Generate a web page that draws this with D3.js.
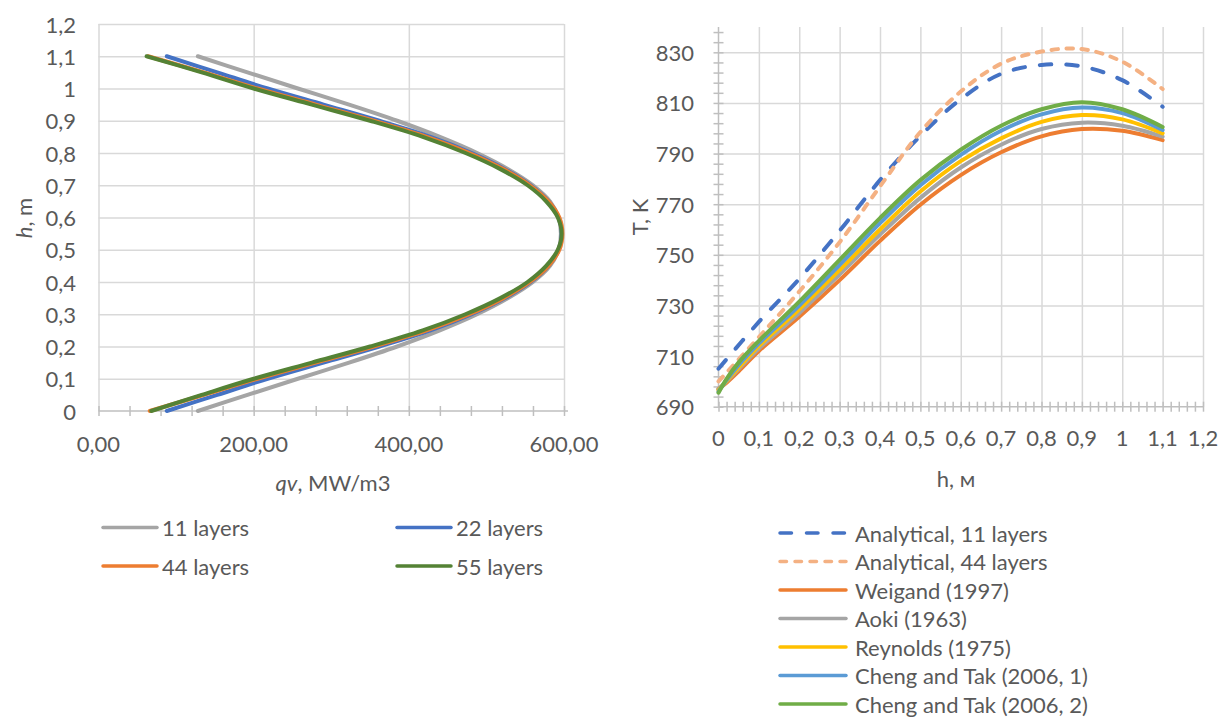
<!DOCTYPE html>
<html><head><meta charset="utf-8">
<script src="https://cdn.jsdelivr.net/npm/d3@7"></script>
<style>
body{margin:0;background:#fff}
text{font-family:Lato,"Open Sans",sans-serif;fill:#595959;font-size:22px}
</style>
</head><body>
<svg id="c" width="1222" height="720"></svg>
<script>
// ---------- Left chart data: qv (MW/m3) vs h (m) ----------
const hLeft = [0,0.05,0.1,0.15,0.2,0.25,0.3,0.35,0.4,0.45,0.5,0.55,0.6,0.65,0.7,0.75,0.8,0.85,0.9,0.95,1.0,1.05,1.1];
const q11 = [128,192,257,323,385,440,488,528,560,582,593,596,593,582,560,528,488,440,385,323,257,192,128];
const q22 = [88,153,218,290,362,428,481,524,557,580,593,597,593,580,557,524,481,428,362,290,218,153,88];
const q44 = [66,136,205,280,355,423,478,522,556,580,594,598,594,580,556,522,478,423,355,280,205,136,64];
const q55 = [68,133,200,275,350,418,473,518,553,577,592,597,592,577,553,518,473,418,350,275,200,133,62];
const leftSeriesNames = ["11 layers","22 layers","44 layers","55 layers"];
const leftColors = ["#A5A5A5","#4472C4","#ED7D31","#548235"];
const leftXTicks = [0,200,400,600];
const leftXLabels = ["0,00","200,00","400,00","600,00"];
const leftYTicks = [0,0.1,0.2,0.3,0.4,0.5,0.6,0.7,0.8,0.9,1,1.1,1.2];
const leftYLabels = ["0","0,1","0,2","0,3","0,4","0,5","0,6","0,7","0,8","0,9","1","1,1","1,2"];

// ---------- Right chart data: T (K) vs h (m) ----------
const hAnalytical = [0,0.1,0.2,0.3,0.4,0.5,0.6,0.7,0.8,0.9,1.0,1.1];
const tAnalytical11 = [705,723.5,740.5,759.5,779.5,797,811.5,821.5,825,824.4,819,808.5];
const tAnalytical44 = [700,717.5,735.5,755,777,798.5,814.5,825.5,830.3,831.3,826.3,815.5];
const hModels = [0,0.02,0.05,0.1,0.2,0.3,0.4,0.5,0.6,0.7,0.8,0.9,1.0,1.1];
const tWeigand = [697,699.5,704,712,725.5,740,755.5,769.8,781.5,790.5,796.8,799.7,799,795.3];
const tAoki = [697,700,705,713,727,742.3,758,772.5,784.5,793.5,799.7,802.2,801,796.7];
const tReynolds = [696.5,700.2,705.5,714,728.5,744,760,775,787,796,802.5,805.2,803.5,798];
const tCheng1 = [696,700.5,706.5,715,730,746,762.5,777.5,789.5,799,805.5,808.2,806,799.3];
const tCheng2 = [695.5,701,707.5,716,731.5,748,764.5,779.5,791.5,801,807.5,810.3,807.5,800.5];
const rightSeriesNames = ["Analytical, 11 layers","Analytical, 44 layers","Weigand (1997)","Aoki (1963)","Reynolds (1975)","Cheng and Tak (2006, 1)","Cheng and Tak (2006, 2)"];
const rightColors = ["#4472C4","#F4B183","#ED7D31","#A5A5A5","#FFC000","#5B9BD5","#70AD47"];
const rightXTicks = [0,0.1,0.2,0.3,0.4,0.5,0.6,0.7,0.8,0.9,1,1.1,1.2];
const rightXLabels = ["0","0,1","0,2","0,3","0,4","0,5","0,6","0,7","0,8","0,9","1","1,1","1,2"];
const rightYTicks = [690,710,730,750,770,790,810,830];
const rightYLabels = ["690","710","730","750","770","790","810","830"];

const svg = d3.select("#c");
const GRID = "#D9D9D9", AXIS = "#BFBFBF";

// ================= LEFT CHART =================
const xL = d3.scaleLinear().domain([0,600]).range([98.5,564]);
const yL = d3.scaleLinear().domain([0,1.2]).range([411,24]);
const gL = svg.append("g");

gL.append("g").call(d3.axisLeft(yL).tickValues(leftYTicks.slice(1)).tickSize(-(xL(600)-xL(0))).tickFormat(""))
  .attr("transform",`translate(${xL(0)},0)`)
  .call(g=>{g.select(".domain").remove(); g.selectAll("line").attr("stroke",GRID).attr("stroke-width",1.5);});
gL.append("g").call(d3.axisBottom(xL).tickValues(leftXTicks).tickSize(-(yL(0)-yL(1.2))).tickFormat(""))
  .attr("transform",`translate(0,${yL(0)})`)
  .call(g=>{g.select(".domain").remove(); g.selectAll("line").attr("stroke",GRID).attr("stroke-width",1.5);});
gL.append("g").attr("transform",`translate(0,${yL(0)-5})`)
  .call(d3.axisBottom(xL).tickValues(d3.range(0,601,40)).tickSize(10).tickSizeOuter(0).tickFormat(""))
  .call(g=>{g.select(".domain").remove(); g.selectAll("line").attr("stroke",AXIS).attr("stroke-width",1.5);});
gL.append("line").attr("x1",xL(0)).attr("x2",xL(600)+4).attr("y1",yL(0)).attr("y2",yL(0)).attr("stroke",AXIS).attr("stroke-width",1.5);

gL.selectAll(".ylab").data(leftYTicks).join("text")
  .attr("x",76).attr("y",d=>yL(d)).attr("text-anchor","end").attr("dominant-baseline","central")
  .text((d,i)=>leftYLabels[i]);
gL.selectAll(".xlab").data(leftXTicks).join("text")
  .attr("x",d=>xL(d)).attr("y",443).attr("text-anchor","middle").attr("dominant-baseline","central")
  .text((d,i)=>leftXLabels[i]);

const tl = gL.append("text").attr("transform","translate(32,218) rotate(-90)").attr("text-anchor","middle");
tl.append("tspan").attr("font-style","italic").text("h");
tl.append("tspan").text(", m");
const tx = gL.append("text").attr("x",333).attr("y",482).attr("text-anchor","middle").attr("dominant-baseline","central");
tx.append("tspan").attr("font-style","italic").text("qv");
tx.append("tspan").text(", MW/m3");

const leftData = [q11,q22,q44,q55];
const lineL = d3.line().x(d=>xL(d[0])).y(d=>yL(d[1])).curve(d3.curveCatmullRom.alpha(0.5));
leftData.forEach((qs,i)=>{
  const pts = hLeft.map((h,j)=>[qs[j],h]);
  gL.append("path").attr("d",lineL(pts)).attr("fill","none").attr("stroke",leftColors[i])
    .attr("stroke-width",4).attr("stroke-linecap","round").attr("stroke-linejoin","round");
});

const legL = [{x:103,y:527.5},{x:397,y:527.5},{x:103,y:566},{x:397,y:566}];
leftSeriesNames.forEach((n,i)=>{
  const p = legL[i];
  gL.append("line").attr("x1",p.x).attr("x2",p.x+54).attr("y1",p.y).attr("y2",p.y)
    .attr("stroke",leftColors[i]).attr("stroke-width",3.5).attr("stroke-linecap","round");
  gL.append("text").attr("x",p.x+59).attr("y",p.y).attr("dominant-baseline","central").text(n);
});

// ================= RIGHT CHART =================
const xR = d3.scaleLinear().domain([0,1.2]).range([718.5,1203]);
const yR = d3.scaleLinear().domain([690,840]).range([406.7,27]);
const gR = svg.append("g");

gR.append("g").attr("transform",`translate(${xR(0)},0)`)
  .call(d3.axisLeft(yR).tickValues(rightYTicks.slice(1)).tickSize(-(xR(1.2)-xR(0))).tickFormat(""))
  .call(g=>{g.select(".domain").remove(); g.selectAll("line").attr("stroke",GRID).attr("stroke-width",1.5);});
gR.append("g").attr("transform",`translate(0,${yR(690)})`)
  .call(d3.axisBottom(xR).tickValues(rightXTicks.slice(1)).tickSize(-(yR(690)-yR(840))).tickFormat(""))
  .call(g=>{g.select(".domain").remove(); g.selectAll("line").attr("stroke",GRID).attr("stroke-width",1.5);});
gR.append("g").attr("transform",`translate(0,${yR(690)-5})`)
  .call(d3.axisBottom(xR).tickValues(d3.range(0,61).map(i=>i*0.02)).tickSize(10).tickSizeOuter(0).tickFormat(""))
  .call(g=>{g.select(".domain").remove(); g.selectAll("line").attr("stroke",AXIS).attr("stroke-width",1.5);});
gR.append("g").attr("transform",`translate(${xR(0)+5},0)`)
  .call(d3.axisLeft(yR).tickValues(d3.range(0,38).map(i=>690+i*4)).tickSize(10).tickSizeOuter(0).tickFormat(""))
  .call(g=>{g.select(".domain").remove(); g.selectAll("line").attr("stroke",AXIS).attr("stroke-width",1.5);});
gR.append("line").attr("x1",xR(0)).attr("x2",xR(1.2)).attr("y1",yR(690)).attr("y2",yR(690)).attr("stroke",AXIS).attr("stroke-width",1.5);
gR.append("line").attr("x1",xR(0)).attr("x2",xR(0)).attr("y1",yR(690)).attr("y2",yR(840)).attr("stroke",AXIS).attr("stroke-width",1.5);

gR.selectAll(".ylab").data(rightYTicks).join("text")
  .attr("x",694).attr("y",d=>yR(d)).attr("text-anchor","end").attr("dominant-baseline","central")
  .text((d,i)=>rightYLabels[i]);
gR.selectAll(".xlab").data(rightXTicks).join("text")
  .attr("x",d=>xR(d)).attr("y",437.5).attr("text-anchor","middle").attr("dominant-baseline","central")
  .text((d,i)=>rightXLabels[i]);

gR.append("text").attr("transform","translate(648,217) rotate(-90)").attr("text-anchor","middle").text("T, K");
gR.append("text").attr("x",956).attr("y",478).attr("text-anchor","middle").attr("dominant-baseline","central").text("h, м");

const lineR = d3.line().x(d=>xR(d[0])).y(d=>yR(d[1])).curve(d3.curveCatmullRom.alpha(0.5));
const rightData = [
  {h:hAnalytical,t:tAnalytical11,dash:"11.5 15"},
  {h:hAnalytical,t:tAnalytical44,dash:"6.5 8.5"},
  {h:hModels,t:tWeigand,dash:null},
  {h:hModels,t:tAoki,dash:null},
  {h:hModels,t:tReynolds,dash:null},
  {h:hModels,t:tCheng1,dash:null},
  {h:hModels,t:tCheng2,dash:null}
];
rightData.forEach((s,i)=>{
  const pts = s.h.map((h,j)=>[h,s.t[j]]);
  const p = gR.append("path").attr("d",lineR(pts)).attr("fill","none").attr("stroke",rightColors[i])
    .attr("stroke-width",4).attr("stroke-linecap","round").attr("stroke-linejoin","round");
  if(s.dash) p.attr("stroke-dasharray",s.dash);
});

rightSeriesNames.forEach((n,i)=>{
  const y = 533 + i*28.5;
  const l = gR.append("line").attr("x1",780).attr("x2",846).attr("y1",y).attr("y2",y)
    .attr("stroke",rightColors[i]).attr("stroke-width",3.5).attr("stroke-linecap","round");
  if(rightData[i].dash) l.attr("stroke-dasharray",rightData[i].dash);
  gR.append("text").attr("x",855).attr("y",y).attr("dominant-baseline","central").text(n);
});
</script>
</body></html>
